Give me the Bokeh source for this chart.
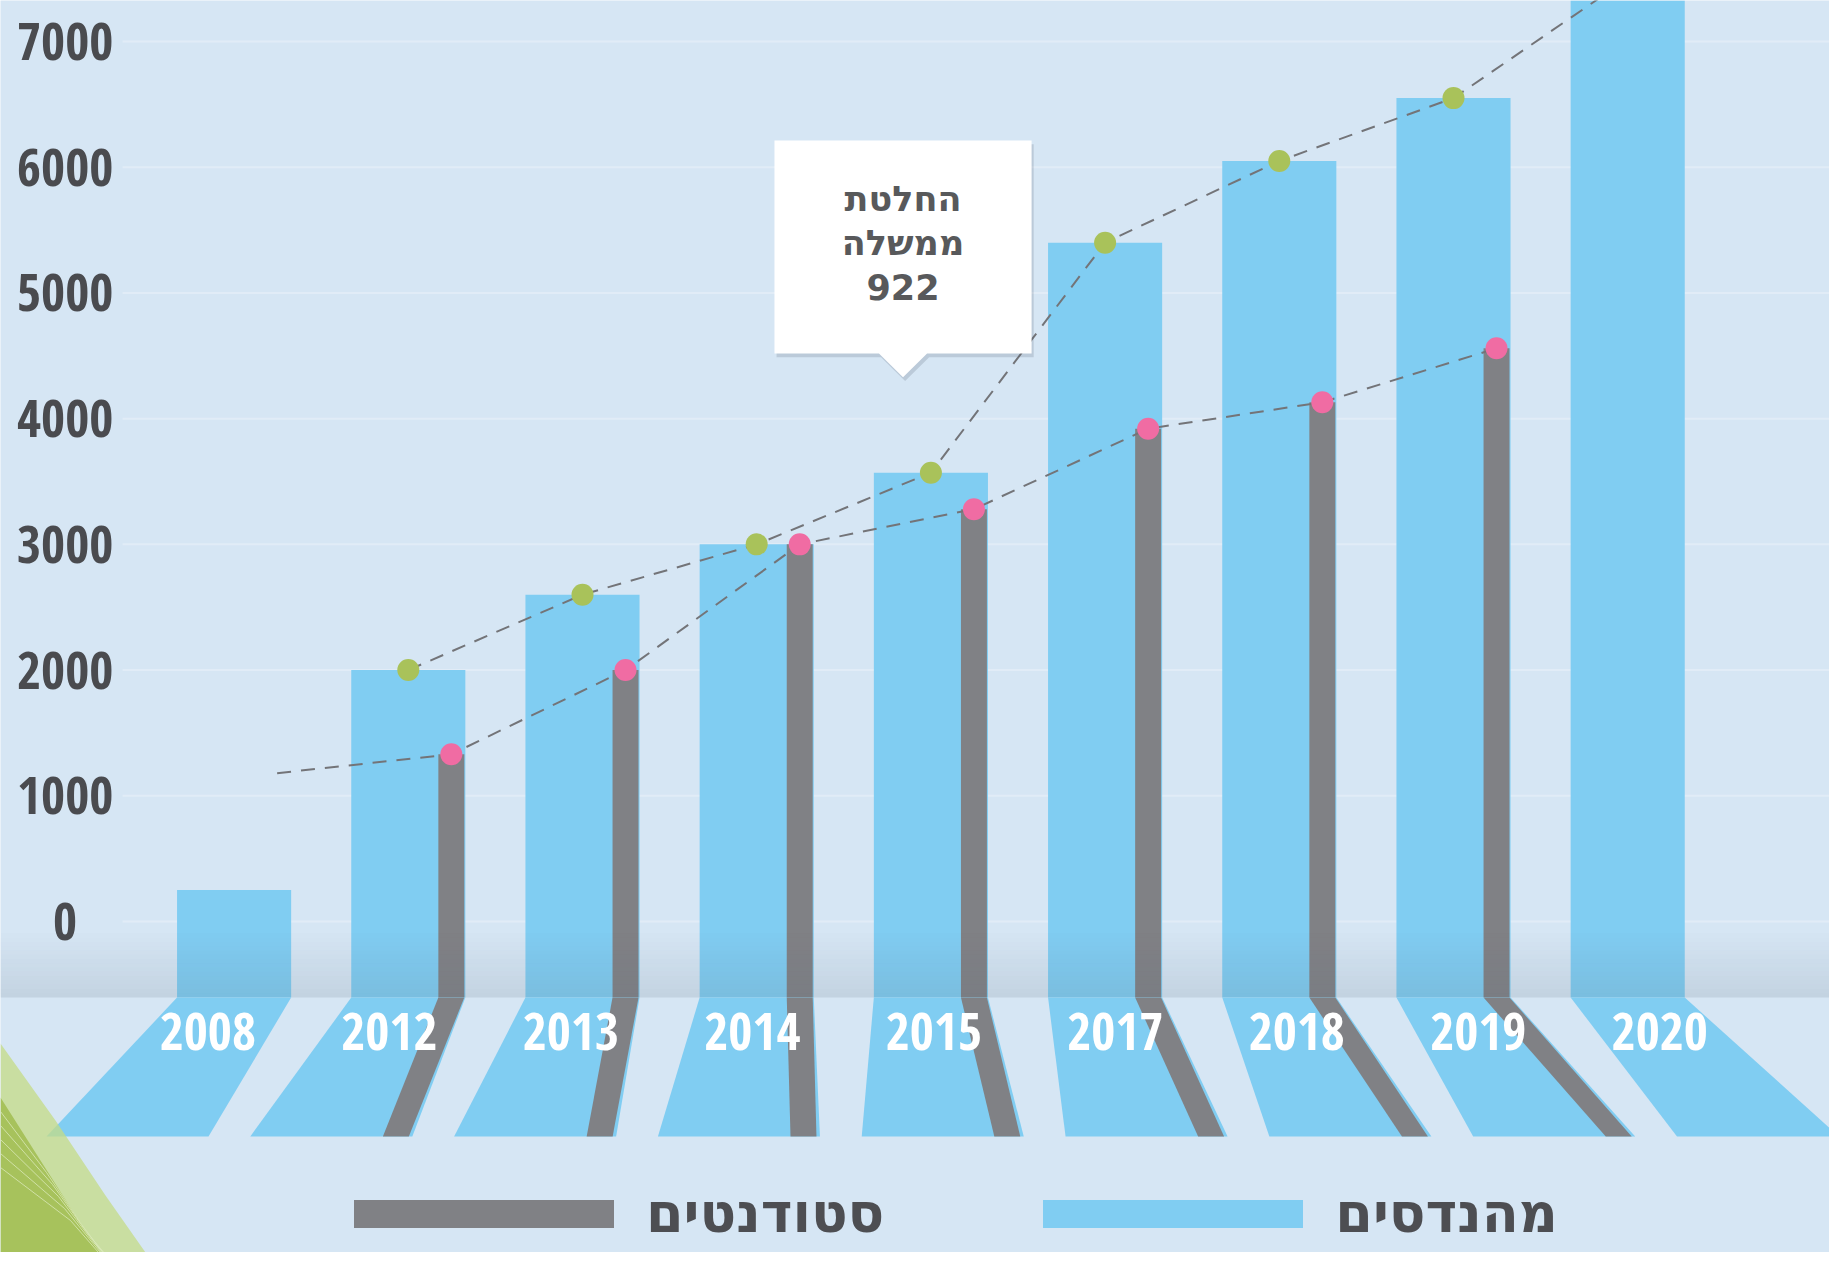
import numpy as np
from bokeh.plotting import figure
from bokeh.models import Range1d, Legend, LegendItem
from bokeh.core.properties import value
from bokeh.embed import file_html
from bokeh.resources import INLINE

# ---------------- data ----------------
years = ["2008", "2012", "2013", "2014", "2015", "2017", "2018", "2019", "2020"]
engineers = [250, 2000, 2600, 3000, 3570, 5400, 6050, 6550, 7500]
students = [np.nan, 1330, 2000, 3000, 3280, 3920, 4130, 4560, np.nan]
students_trend_start = 1180          # level where the students trend line starts (2008)
engineers_trend_from = "2012"        # first year marked on the engineers trend line
y_ticks = [0, 1000, 2000, 3000, 4000, 5000, 6000, 7000]
legend_students = "סטודנטים"
legend_engineers = "מהנדסים"
note_lines = ["החלטת", "ממשלה", "922"]
note_year = "2015"

# ---------------- style ----------------
BLUE = "#80cdf2"
GREY = "#808185"
GREEN = "#a9c25a"
PINK = "#f06ca3"
BG = "#d6e6f4"
DARK = "#4a4b4f"
NUM_FONT_NAME = ("Noto Sans ExtraCondensed, Open Sans Condensed, Noto Sans Condensed, "
                 "Liberation Sans Narrow, DejaVu Sans Condensed")
HEB_FONT_NAME = "DejaVu Sans"
NUM_FONT = value(NUM_FONT_NAME)
HEB_FONT = value(HEB_FONT_NAME)

BAR_W = 0.655
GREY_W = 0.149
FLOOR_TOP, FLOOR_BOTTOM = -605, -1710
VP, K, SPREAD = 3.6, 0.17, 1.42
LABEL_T = 0.246
YEAR_LABEL_Y = -875
YLABEL_X = -0.97

n = len(years)
idx = np.arange(n, dtype=float)
eng = np.array(engineers, dtype=float)
stu = np.array(students, dtype=float)
grey_x = idx + BAR_W / 2 - GREY_W / 2 - 0.006
shift = (idx - VP) * K

W, H = 1829, 1252
PX_PER_X, PX_PER_Y = 174.2, 0.12571
x0 = -233.6 / PX_PER_X
x1 = x0 + W / PX_PER_X
y1 = 921 / PX_PER_Y
y0 = y1 - H / PX_PER_Y


def px(xp, yp):
    """decoration helper: screen-pixel offsets from the top-left -> data coords"""
    return [x0 + v / PX_PER_X for v in xp], [y1 - v / PX_PER_Y for v in yp]


p = figure(width=W, height=H, x_range=Range1d(x0, x1), y_range=Range1d(y0, y1),
           output_backend="svg", toolbar_location=None, min_border=0)
p.axis.visible = False
p.grid.visible = False
p.outline_line_color = None
p.background_fill_color = BG
p.border_fill_color = BG

# faint grid lines
p.segment(x0=[-0.64] * len(y_ticks), x1=[x1] * len(y_ticks), y0=y_ticks, y1=y_ticks,
          line_color="#e1ecf7", line_width=2)

# y tick labels
p.text(x=[YLABEL_X] * len(y_ticks), y=y_ticks, text=[str(t) for t in y_ticks],
       text_font=NUM_FONT, text_font_style="bold", text_font_size="52px",
       text_color=DARK, text_align="center", text_baseline="middle")

# bars
blue_r = p.vbar(x=idx, width=BAR_W, bottom=FLOOR_TOP, top=eng, fill_color=BLUE, line_color=None)
sm = ~np.isnan(stu)
grey_r = p.vbar(x=grey_x[sm], width=GREY_W, bottom=FLOOR_TOP, top=stu[sm],
                fill_color=GREY, line_color=None)

# shadow band just above the floor
N = 16
edges = np.linspace(FLOOR_TOP, -60, N + 1)
alphas = np.linspace(0.15, 0.0, N)
p.quad(left=[x0] * N, right=[x1] * N, bottom=edges[:-1], top=edges[1:],
       fill_color="#5a6a7a", fill_alpha=alphas, line_color=None)

# floor "shadows" in perspective
bxs, bys = [], []
for i in range(n):
    xc, s = idx[i], shift[i]
    bxs.append([xc - BAR_W / 2, xc + BAR_W / 2, xc + s + BAR_W * SPREAD / 2, xc + s - BAR_W * SPREAD / 2])
    bys.append([FLOOR_TOP, FLOOR_TOP, FLOOR_BOTTOM, FLOOR_BOTTOM])
p.patches(xs=bxs, ys=bys, fill_color=BLUE, line_color=None)
gxs, gys = [], []
for i in np.where(sm)[0]:
    xc, s = idx[i], shift[i]
    br = xc + s + BAR_W * SPREAD / 2 - 0.02
    gxs.append([grey_x[i] - GREY_W / 2, grey_x[i] + GREY_W / 2, br, br - GREY_W])
    gys.append([FLOOR_TOP, FLOOR_TOP, FLOOR_BOTTOM, FLOOR_BOTTOM])
p.patches(xs=gxs, ys=gys, fill_color=GREY, line_color=None)

# decorative green swoosh in the bottom-left corner
lx, ly = px([0, 55, 105, 145, 0], [1043, 1120, 1195, 1252, 1252])
p.patch(x=lx, y=ly, fill_color="#c4db86", fill_alpha=0.75, line_color=None)
dx, dy = px([0, 40, 75, 100, 0], [1097, 1160, 1215, 1252, 1252])
p.patch(x=dx, y=dy, fill_color="#a7c25c", line_color=None)
for k in range(1, 6):
    sx_, sy_ = px([0, 40 + 6 * k, 75 + 6 * k, 100 + 7 * k], [1097 + 14 * k, 1160 + 12 * k, 1215 + 9 * k, 1252 + 6 * k])
    p.line(x=sx_, y=sy_, line_color="#d9e8b8", line_width=1, line_alpha=0.8)

# year labels on the floor
p.text(x=idx + shift * LABEL_T, y=[YEAR_LABEL_Y] * n, text=years,
       text_font=NUM_FONT, text_font_style="bold", text_font_size="52px",
       text_color="white", text_align="center", text_baseline="middle")

# trend lines
e0 = years.index(engineers_trend_from)
p.line(x=idx[e0:], y=eng[e0:], line_color="#737478", line_width=2, line_dash="14 10")
sx = np.concatenate([[grey_x[0]], grey_x[sm]])
sy = np.concatenate([[students_trend_start], stu[sm]])
p.line(x=sx, y=sy, line_color="#737478", line_width=2, line_dash="14 10")

p.scatter(x=idx[e0:], y=eng[e0:], size=22, fill_color=GREEN, line_color=None)
p.scatter(x=grey_x[sm], y=stu[sm], size=22, fill_color=PINK, line_color=None)

# callout
ax = years.index(note_year) - 0.16
TIP, BOX_B, BOX_T, HALF, PHALF = 4330, 4518, 6213, 0.738, 0.138
cx = [ax - HALF, ax + HALF, ax + HALF, ax + PHALF, ax, ax - PHALF, ax - HALF]
cy = [BOX_T, BOX_T, BOX_B, BOX_B, TIP, BOX_B, BOX_B]
p.patch(x=[v + 0.012 for v in cx], y=[v - 30 for v in cy], fill_color="#44505c", fill_alpha=0.18, line_color=None)
p.patch(x=cx, y=cy, fill_color="white", line_color=None)
mid = (BOX_T + BOX_B) / 2 + 30
p.text(x=[ax] * 3, y=[mid + 350, mid, mid - 350], text=note_lines,
       text_font=HEB_FONT, text_font_style="bold", text_font_size="35px",
       text_color="#58595b", text_align="center", text_baseline="middle")

# legend
legend = Legend(items=[LegendItem(label=legend_students, renderers=[grey_r]),
                       LegendItem(label=legend_engineers, renderers=[blue_r])],
                orientation="horizontal", location=(321, 7),
                glyph_width=325, glyph_height=35, label_standoff=0, spacing=126,
                label_text_font=HEB_FONT_NAME, label_text_font_style="bold",
                label_text_font_size="54px", label_text_color="#4d4e52",
                padding=0, margin=0, border_line_color=None, background_fill_alpha=0)
p.add_layout(legend, "center")

open("out.html", "w").write(file_html(p, INLINE))
